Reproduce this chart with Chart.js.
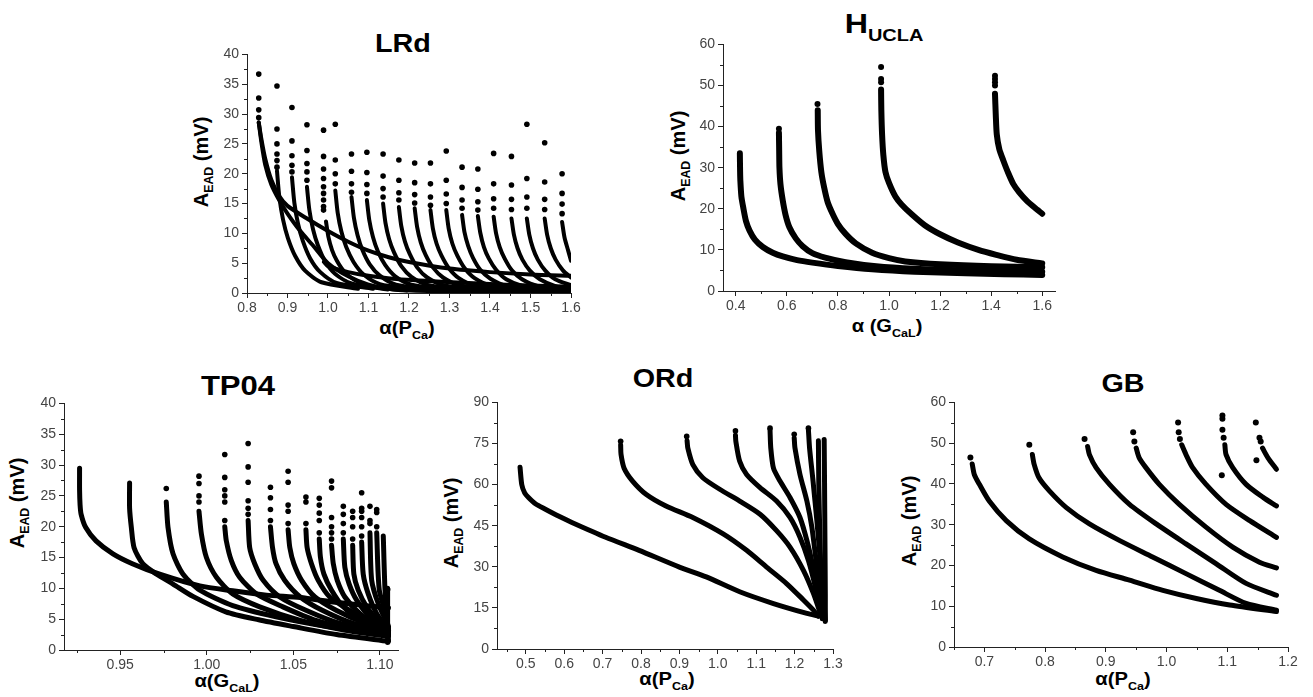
<!DOCTYPE html>
<html>
<head>
<meta charset="utf-8">
<script src="https://cdn.jsdelivr.net/npm/chart.js@4.4.1/dist/chart.umd.min.js"></script>
<style>
  body { margin: 0; background: #fff; width: 1313px; height: 697px; position: relative; overflow: hidden;
         font-family: "Liberation Sans", Arial, sans-serif; }
  canvas { position: absolute; }
  .t { position: absolute; font-weight: bold; color: #000; white-space: nowrap; line-height: 1;
       transform: translate(-50%, -50%) scaleX(1.15); }
  .yl { position: absolute; font-weight: bold; color: #000; white-space: nowrap; line-height: 1; font-size: 20px;
        transform: translate(-50%, -50%) rotate(-90deg); }
  .xl { position: absolute; font-weight: bold; color: #000; white-space: nowrap; line-height: 1; font-size: 18px;
        transform: translate(-50%, -50%) scaleX(1.12); }
  sub { font-size: 0.62em; vertical-align: -0.45em; }
</style>
</head>
<body>

<div class="t" style="left:403px;top:43px;font-size:25px">LRd</div>
<div class="t" style="left:884px;top:27px;font-size:28px">H<sub>UCLA</sub></div>
<div class="t" style="left:238px;top:386px;font-size:27px">TP04</div>
<div class="t" style="left:663px;top:378px;font-size:25px">ORd</div>
<div class="t" style="left:1123px;top:383px;font-size:25px">GB</div>

<div class="yl" style="left:203px;top:162px">A<sub>EAD</sub> (mV)</div>
<div class="yl" style="left:680px;top:156px">A<sub>EAD</sub> (mV)</div>
<div class="yl" style="left:19px;top:503px">A<sub>EAD</sub> (mV)</div>
<div class="yl" style="left:453px;top:523px">A<sub>EAD</sub> (mV)</div>
<div class="yl" style="left:911px;top:521px">A<sub>EAD</sub> (mV)</div>

<div class="xl" style="left:407px;top:330px">α(P<sub>Ca</sub>)</div>
<div class="xl" style="left:887px;top:328px">α (G<sub>CaL</sub>)</div>
<div class="xl" style="left:227px;top:683px">α(G<sub>CaL</sub>)</div>
<div class="xl" style="left:667px;top:681px">α(P<sub>Ca</sub>)</div>
<div class="xl" style="left:1123px;top:681px">α(P<sub>Ca</sub>)</div>

<script>
// ─── LRd ─────────────────────────────────────────────────────────────────────
const lrdXMajor = [0.8, 0.9, 1.0, 1.1, 1.2, 1.3, 1.4, 1.5, 1.6];
const lrdXMinor = [0.85, 0.95, 1.05, 1.15, 1.25, 1.35, 1.45, 1.55];
const lrdYMajor = [0, 5, 10, 15, 20, 25, 30, 35, 40];
const lrdYMinor = [2.5, 7.5, 12.5, 17.5, 22.5, 27.5, 32.5, 37.5];

const lrdBands = [
  [[0.829,28.6],[0.835,26],[0.845,22.5],[0.86,19],[0.88,16.2],[0.9,14.6],[0.95,12.4],[1.0,10.4],[1.05,8.6],[1.1,7.1],[1.15,6.0],[1.2,5.2],[1.3,4.1],[1.4,3.5],[1.5,3.1],[1.6,2.9]],
  [[0.829,28.6],[0.835,25.5],[0.845,21.5],[0.86,18.2],[0.88,15.5],[0.9,13.3],[0.93,10.5],[0.965,7.8],[1.0,5.0],[1.05,2.8],[1.1,1.4],[1.16,0.6],[1.25,0.35],[1.4,0.25],[1.6,0.2]],
  [[0.99,5.2],[1.0,4.5],[1.05,3.5],[1.1,2.9],[1.16,2.4],[1.28,1.9],[1.44,1.4],[1.6,1.05]],
  [[1.15,0.8],[1.3,0.7],[1.45,0.65],[1.6,0.6]],
];

const lrdBranches = [
  [[0.874,20.5],[0.880,16],[0.889,12.3],[0.901,9.2],[0.919,6.2],[0.944,3.7],[0.984,1.8],[1.074,0.7]],
  [[0.911,19.4],[0.917,15.1],[0.926,11.6],[0.938,8.7],[0.956,5.8],[0.981,3.5],[1.021,1.7],[1.111,0.7]],
  [[0.948,17.8],[0.954,13.9],[0.963,10.7],[0.975,8.0],[0.993,5.3],[1.018,3.2],[1.058,1.6],[1.148,0.6]],
  [[0.995,12],[1.001,9.4],[1.010,7.2],[1.022,5.4],[1.040,3.6],[1.065,2.2],[1.105,1.1],[1.195,0.4]],
  [[1.018,17.2],[1.024,13.4],[1.033,10.3],[1.045,7.7],[1.063,5.2],[1.088,3.1],[1.128,1.5],[1.218,0.6]],
  [[1.058,16.1],[1.064,12.6],[1.073,9.7],[1.085,7.2],[1.103,4.8],[1.128,2.9],[1.168,1.4],[1.258,0.56]],
  [[1.096,15.6],[1.102,12.2],[1.111,9.4],[1.123,7.0],[1.141,4.7],[1.166,2.8],[1.206,1.4],[1.296,0.55]],
  [[1.136,15],[1.142,11.7],[1.151,9.0],[1.163,6.8],[1.181,4.5],[1.206,2.7],[1.246,1.35],[1.336,0.5]],
  [[1.175,14.4],[1.181,11.2],[1.190,8.6],[1.202,6.5],[1.220,4.3],[1.245,2.6],[1.285,1.3],[1.375,0.5]],
  [[1.214,14.2],[1.220,11.1],[1.229,8.5],[1.241,6.4],[1.259,4.3],[1.284,2.6],[1.324,1.3],[1.414,0.5]],
  [[1.253,13.9],[1.259,10.8],[1.268,8.3],[1.280,6.3],[1.298,4.2],[1.323,2.5],[1.363,1.25],[1.453,0.5]],
  [[1.292,13.9],[1.298,10.8],[1.307,8.3],[1.319,6.3],[1.337,4.2],[1.362,2.5],[1.402,1.25],[1.492,0.5]],
  [[1.331,13.1],[1.337,10.2],[1.346,7.9],[1.358,5.9],[1.376,3.9],[1.401,2.4],[1.441,1.2],[1.531,0.46]],
  [[1.370,12.9],[1.376,10.1],[1.385,7.7],[1.397,5.8],[1.415,3.9],[1.440,2.3],[1.480,1.2],[1.570,0.45]],
  [[1.409,12.8],[1.415,10.0],[1.424,7.7],[1.436,5.8],[1.454,3.8],[1.479,2.3],[1.519,1.15],[1.6,0.5]],
  [[1.453,12.5],[1.459,9.8],[1.468,7.5],[1.480,5.6],[1.498,3.8],[1.523,2.3],[1.563,1.1],[1.6,0.7]],
  [[1.491,12.5],[1.497,9.8],[1.506,7.5],[1.518,5.6],[1.536,3.8],[1.561,2.3],[1.6,1.3]],
  [[1.535,12.5],[1.541,9.8],[1.550,7.5],[1.562,5.6],[1.580,3.8],[1.6,2.6]],
  [[1.578,11.9],[1.584,9.3],[1.593,7.1],[1.6,5.4]],
];

const lrdDots = [
  [0.829,36.7],[0.829,32.7],[0.829,30.7],[0.829,29.4],
  [0.874,34.7],[0.874,27.5],[0.874,25],[0.874,23.3],[0.874,22.2],[0.874,21.1],
  [0.911,31.1],[0.911,25.5],[0.911,23],[0.911,21.4],[0.911,20.3],
  [0.948,28.2],[0.948,23.9],[0.948,21.7],[0.948,20.3],[0.948,18.9],
  [0.989,27.3],[0.989,22.9],[0.989,20.8],[0.989,19.2],[0.989,17.8],[0.989,16.7],[0.989,15.6],[0.989,14.5],[0.989,13.9],
  [1.018,28.3],[1.018,22.3],[1.018,20],[1.018,18.3],
  [1.058,23.3],[1.058,20.4],[1.058,18.3],[1.058,16.9],
  [1.096,23.6],[1.096,20.2],[1.096,18.2],[1.096,16.7],
  [1.136,23.3],[1.136,19.6],[1.136,17.5],[1.136,16.1],
  [1.175,22.3],[1.175,18.9],[1.175,16.8],[1.175,15.6],
  [1.214,21.8],[1.214,18.5],[1.214,16.5],[1.214,15.1],
  [1.253,21.8],[1.253,18.3],[1.253,16.1],[1.253,14.7],
  [1.292,23.8],[1.292,18.9],[1.292,16.6],[1.292,15],
  [1.331,21.1],[1.331,17.7],[1.331,15.6],[1.331,14.2],
  [1.370,20.8],[1.370,17.4],[1.370,15.3],[1.370,13.9],
  [1.409,23.4],[1.409,18.3],[1.409,15.8],[1.409,14.2],
  [1.453,22.9],[1.453,18.1],[1.453,15.7],[1.453,14],
  [1.491,28.3],[1.491,19.2],[1.491,16.1],[1.491,14.2],
  [1.535,25.2],[1.535,18.6],[1.535,15.7],[1.535,14],
  [1.578,20],[1.578,16.7],[1.578,14.9],[1.578,13.3],
];

// ─── H UCLA ──────────────────────────────────────────────────────────────────
const hXMajor = [0.4, 0.6, 0.8, 1.0, 1.2, 1.4, 1.6];
const hXMinor = [0.5, 0.7, 0.9, 1.1, 1.3, 1.5];
const hYMajor = [0, 10, 20, 30, 40, 50, 60];
const hYMinor = [5, 15, 25, 35, 45, 55];

const hCurves = [
  [[0.416,33.5],[0.417,29],[0.418,26.8],[0.422,23],[0.429,20.4],[0.44,17],[0.454,14.7],[0.475,12.5],[0.506,10.7],[0.545,9.3],[0.584,8.4],[0.64,7.5],[0.7,6.9],[0.8,6.1],[0.934,5.3],[1.1,4.7],[1.3,4.3],[1.45,4.1],[1.6,3.9]],
  [[0.569,38.5],[0.570,34],[0.571,30],[0.575,26],[0.584,22],[0.595,18.5],[0.61,15.5],[0.635,12.8],[0.662,10.9],[0.7,9.2],[0.75,8.1],[0.83,7.0],[0.95,6.0],[1.1,5.4],[1.3,5.0],[1.6,4.7]],
  [[0.721,44],[0.722,39],[0.727,34],[0.735,29],[0.746,25.2],[0.76,21.6],[0.779,18.8],[0.80,16.3],[0.83,13.9],[0.87,11.6],[0.934,9.3],[1.0,8.0],[1.064,7.2],[1.2,6.5],[1.4,6.0],[1.6,5.8]],
  [[0.969,49],[0.97,44],[0.973,38],[0.978,33],[0.986,29],[1.0,26.3],[1.025,23],[1.05,21],[1.09,18.6],[1.14,16.0],[1.2,13.8],[1.27,11.8],[1.35,10.0],[1.42,8.8],[1.5,7.6],[1.6,6.7]],
  [[1.415,48],[1.418,43],[1.422,38.1],[1.432,34.5],[1.448,31.7],[1.465,29],[1.487,26],[1.51,24],[1.539,22],[1.57,20.3],[1.6,18.8]],
];

const hDots = [
  [0.569,39.5],[0.72,45.5],
  [0.969,54.5],[0.969,51.6],[0.969,50.8],
  [1.415,52.4],[1.415,51.6],[1.415,50.8],[1.415,50],
];

// ─── TP04 ────────────────────────────────────────────────────────────────────
const tpXMajor = [0.95, 1.00, 1.05, 1.10];
const tpXMinor = [0.925, 0.975, 1.025, 1.075];
const tpYMajor = [0, 5, 10, 15, 20, 25, 30, 35, 40];
const tpYMinor = [2.5, 7.5, 12.5, 17.5, 22.5, 27.5, 32.5, 37.5];

const tpCurves = [
  [[0.9265,29.5],[0.9265,26],[0.9268,23.5],[0.9274,22],[0.930,19.9],[0.936,17.7],[0.9458,15.6],[0.957,14],[0.9728,12.3],[0.996,10.4],[1.015,9.6],[1.0345,8.9],[1.054,8.5],[1.073,7.8],[1.092,7.2],[1.105,6.8]],
  [[0.9554,27.1],[0.9554,23],[0.9564,19.9],[0.958,16.6],[0.963,14],[0.971,12.3],[0.9805,10.7],[0.992,8.7],[1.011,6.2],[1.03,4.9],[1.05,3.8],[1.075,2.5],[1.105,1.4]],
  [[0.9766,24],[0.9776,19.9],[0.9805,15.6],[0.9863,12.3],[0.996,9.7],[1.015,7.2],[1.04,5.4],[1.07,3.8],[1.105,2.4]],
  [[0.9955,22.5],[0.9969,18.8],[0.9998,15],[1.0056,11.8],[1.015,9.1],[1.0306,7.0],[1.054,4.8],[1.08,3.2],[1.105,2.2]],
  [[1.0104,20],[1.0113,17.7],[1.0142,14.5],[1.019,11.8],[1.0287,9.1],[1.044,7.0],[1.063,4.8],[1.085,3.3],[1.105,2.5]],
  [[1.0239,21],[1.0248,16.6],[1.0277,14],[1.0326,11.3],[1.0422,8.6],[1.0576,6.4],[1.077,4.3],[1.105,2.8]],
  [[1.0368,20],[1.038,16.6],[1.040,14],[1.045,11.3],[1.054,8.6],[1.067,6.4],[1.0847,4.3],[1.105,3.0]],
  [[1.047,19.5],[1.048,16.6],[1.0503,14],[1.0548,11.3],[1.0625,8.6],[1.075,6.4],[1.092,4.3],[1.105,3.4]],
  [[1.0573,19.5],[1.058,16.6],[1.0605,14],[1.0644,11.3],[1.0711,8.6],[1.0827,6.4],[1.0962,4.3],[1.105,3.6]],
  [[1.065,18],[1.0657,15],[1.0677,12.3],[1.0721,9.7],[1.0789,7.0],[1.0904,4.5],[1.105,3.4]],
  [[1.0721,17],[1.0731,14],[1.0754,11.3],[1.0798,8.6],[1.0885,5.9],[1.1,3.8],[1.105,3.2]],
  [[1.0789,18],[1.0798,13.4],[1.0823,10.7],[1.0866,8.1],[1.0943,5.4],[1.105,3.2]],
  [[1.0843,17],[1.085,12.3],[1.0875,9.7],[1.0924,7.0],[1.1,4.3],[1.105,2.7]],
  [[1.0895,17.5],[1.0904,12.3],[1.0933,9.1],[1.0982,5.9],[1.105,3.2]],
  [[1.0943,19],[1.0953,11.3],[1.0991,7.5],[1.105,3.8]],
  [[1.0982,19],[1.0997,9.7],[1.104,5.4],[1.105,2.7]],
  [[1.102,18.5],[1.103,9.7],[1.105,1.6]],
  [[1.1045,10],[1.1045,1.2]],
];

const tpDots = [
  [0.9766,26.2],
  [0.9955,28.2],[0.9955,27],[0.9955,25],[0.9955,24],
  [1.0104,31.7],[1.0104,28],[1.0104,26],[1.0104,25],[1.0104,24],[1.0104,21],
  [1.0239,33.5],[1.0239,29.7],[1.0239,27.2],[1.0239,24.2],[1.0239,23],[1.0239,22],
  [1.0368,26.4],[1.0368,24.7],[1.0368,22.8],[1.0368,21],
  [1.047,29],[1.047,27.2],[1.047,23.5],[1.047,22.5],[1.047,20.5],
  [1.0573,24.8],[1.0573,24],[1.0573,20.5],
  [1.065,24.6],[1.065,23.5],[1.065,22.2],[1.065,21],[1.065,19],
  [1.0721,27.4],[1.0721,26.3],[1.0721,21.5],[1.0721,20],[1.0721,19],[1.0721,18],
  [1.0789,23.3],[1.0789,22],[1.0789,20.5],[1.0789,19],
  [1.0843,22.5],[1.0843,21.5],[1.0843,20],[1.0843,18],
  [1.0895,25.5],[1.0895,23],[1.0895,22.5],[1.0895,21.5],[1.0895,20],[1.0895,18.5],
  [1.0943,23.3],[1.0943,21],[1.0943,20.5],
  [1.0982,22.8],[1.0982,22.3],[1.0982,20],
  [1.1045,9.8],
];

// ─── ORd ─────────────────────────────────────────────────────────────────────
const ordXMajor = [0.5, 0.6, 0.7, 0.8, 0.9, 1.0, 1.1, 1.2, 1.3];
const ordXMinor = [0.45, 0.55, 0.65, 0.75, 0.85, 0.95, 1.05, 1.15, 1.25];
const ordYMajor = [0, 15, 30, 45, 60, 75, 90];
const ordYMinor = [7.5, 22.5, 37.5, 52.5, 67.5, 82.5];

const ordCurves = [
  [[0.485,66.3],[0.4895,60],[0.497,57],[0.507,55.3],[0.525,53],[0.551,51],[0.585,48.5],[0.62,46.2],[0.708,40.8],[0.795,36],[0.9,29.9],[0.97,26.3],[1.057,20.9],[1.145,16.6],[1.232,13],[1.262,12]],
  [[0.747,74.5],[0.748,71],[0.756,66],[0.778,61.3],[0.813,56.5],[0.865,52.2],[0.935,48],[1.014,42],[1.075,36],[1.127,29.9],[1.179,23.9],[1.223,17.9],[1.249,14.2],[1.262,12]],
  [[0.920,76],[0.922,73.3],[0.935,67.3],[0.961,62.5],[1.005,58.3],[1.057,54],[1.11,49.2],[1.153,43.2],[1.188,37.2],[1.223,28.7],[1.249,20.3],[1.267,13]],
  [[1.046,78],[1.047,75.8],[1.057,68.5],[1.075,63.7],[1.11,58.9],[1.153,54],[1.188,48],[1.214,40.8],[1.236,32.3],[1.254,22.7],[1.267,14]],
  [[1.136,80],[1.138,73.3],[1.145,66],[1.162,61.3],[1.188,55.3],[1.214,48],[1.232,39.6],[1.248,29.9],[1.261,20.3],[1.271,12]],
  [[1.199,77],[1.201,73.3],[1.214,63.7],[1.232,54],[1.245,44.4],[1.256,32.3],[1.267,20.3],[1.274,12]],
  [[1.236,80],[1.239,73.3],[1.248,61.3],[1.258,46.8],[1.267,32.3],[1.276,17.9],[1.28,10.6]],
  [[1.262,76],[1.263,60],[1.266,40],[1.27,20],[1.272,11]],
  [[1.277,76.5],[1.278,60],[1.279,40],[1.28,20],[1.28,10]],
];

const ordDots = [
  [0.747,75.8],[0.919,77.6],[1.046,79.6],[1.136,80.6],[1.199,78.4],[1.236,80.6],
];

// ─── GB ──────────────────────────────────────────────────────────────────────
const gbXMajor = [0.7, 0.8, 0.9, 1.0, 1.1, 1.2];
const gbXMinor = [0.65, 0.75, 0.85, 0.95, 1.05, 1.15];
const gbYMajor = [0, 10, 20, 30, 40, 50, 60];
const gbYMinor = [5, 15, 25, 35, 45, 55];

const gbCurves = [
  [[0.68,44.9],[0.6835,42.3],[0.6918,39.9],[0.708,35.8],[0.736,31],[0.774,26.5],[0.829,22.1],[0.884,18.8],[0.939,16.4],[0.994,13.9],[1.049,11.9],[1.104,10.3],[1.181,8.7]],
  [[0.779,47.2],[0.782,44.8],[0.79,41.5],[0.807,38.3],[0.835,34.2],[0.873,30.2],[0.923,26.1],[0.977,22.1],[1.032,18],[1.087,13.9],[1.131,10.7],[1.181,9.0]],
  [[0.87,49.2],[0.873,47.2],[0.884,44],[0.906,39.9],[0.939,35],[0.983,30.2],[1.032,25.3],[1.082,20.4],[1.131,15.6],[1.181,12.7]],
  [[0.95,48.8],[0.955,46.4],[0.966,44],[0.988,39.9],[1.021,35],[1.065,29.4],[1.109,24.5],[1.153,20.8],[1.181,19.4]],
  [[1.025,49.6],[1.032,47.2],[1.043,44],[1.065,39.9],[1.098,35],[1.137,31],[1.181,26.9]],
  [[1.096,49.6],[1.098,47.2],[1.109,44],[1.131,39.9],[1.159,36.7],[1.181,34.6]],
  [[1.158,48.8],[1.167,46.4],[1.181,43.6]],
];

const gbDots = [
  [0.677,46.5],[0.774,49.6],[0.865,51],
  [0.945,52.7],[0.947,50.4],
  [1.019,55.1],[1.02,52.7],[1.022,51],
  [1.092,56.8],[1.092,56],[1.092,53.3],[1.094,51.3],[1.091,42.1],
  [1.147,55.1],[1.148,45.8],[1.153,51.3],[1.155,50.4],
];

// ─── Budowa wykresów ─────────────────────────────────────────────────────────

const Y_AXIS_W = 44;
const X_AXIS_H = 28;
const PAD_TOP = 10;
const PAD_RIGHT = 16;

function toXY(pts) {
  return pts.map(p => ({ x: p[0], y: p[1] }));
}

// krótkie podziałki pośrednie (Chart.js nie ma minor ticks)
const minorTicks = {
  id: 'minorTicks',
  afterDraw(chart, args, opts) {
    const { ctx } = chart;
    const xs = chart.scales.x, ys = chart.scales.y;
    ctx.save();
    ctx.strokeStyle = '#222';
    ctx.lineWidth = 1;
    ctx.beginPath();
    opts.x.forEach(v => {
      const px = Math.round(xs.getPixelForValue(v)) + 0.5;
      ctx.moveTo(px, xs.top);
      ctx.lineTo(px, xs.top + 3);
    });
    opts.y.forEach(v => {
      const py = Math.round(ys.getPixelForValue(v)) + 0.5;
      ctx.moveTo(ys.right, py);
      ctx.lineTo(ys.right - 3, py);
    });
    ctx.stroke();
    ctx.restore();
  },
};

function makePanel(cfg) {
  const { area, xRange, yRange, xMajor, xMinor, xDec, yMajor, yMinor, lines, dots, lineW, dotR } = cfg;
  const canvas = document.createElement('canvas');
  const w = Math.round(area.right - area.left) + Y_AXIS_W + PAD_RIGHT;
  const h = Math.round(area.bottom - area.top) + PAD_TOP + X_AXIS_H;
  canvas.width = w;
  canvas.height = h;
  canvas.style.left = Math.round(area.left - Y_AXIS_W) + 'px';
  canvas.style.top = Math.round(area.top - PAD_TOP) + 'px';
  document.body.appendChild(canvas);

  const datasets = lines.map(pts => ({
    data: toXY(pts),
    showLine: true,
    borderColor: '#000',
    borderWidth: lineW,
    borderCapStyle: 'round',
    borderJoinStyle: 'round',
    pointRadius: 0,
    tension: 0.25,
  }));
  datasets.push({
    data: toXY(dots),
    showLine: false,
    pointRadius: dotR,
    pointBackgroundColor: '#000',
    pointBorderWidth: 0,
  });

  const tickFont = { family: '"Liberation Sans", Arial, sans-serif', size: 14 };

  new Chart(canvas, {
    type: 'scatter',
    data: { datasets },
    plugins: [minorTicks],
    options: {
      responsive: false,
      animation: false,
      devicePixelRatio: 1,
      layout: { padding: { top: PAD_TOP, right: PAD_RIGHT, left: 0, bottom: 0 } },
      plugins: {
        legend: { display: false },
        tooltip: { enabled: false },
        minorTicks: { x: xMinor, y: yMinor },
      },
      scales: {
        x: {
          type: 'linear',
          min: xRange[0],
          max: xRange[1],
          afterBuildTicks: s => { s.ticks = xMajor.map(v => ({ value: v })); },
          afterFit: s => { s.height = X_AXIS_H; },
          ticks: {
            autoSkip: false, maxRotation: 0, minRotation: 0, padding: 2,
            color: '#444', font: tickFont,
            callback: v => v.toFixed(xDec),
          },
          grid: { drawOnChartArea: false, drawTicks: true, tickLength: 5, tickColor: '#222' },
          border: { display: true, color: '#222', width: 1 },
        },
        y: {
          type: 'linear',
          min: yRange[0],
          max: yRange[1],
          afterBuildTicks: s => { s.ticks = yMajor.map(v => ({ value: v })); },
          afterFit: s => { s.width = Y_AXIS_W; },
          ticks: {
            autoSkip: false, padding: 3,
            color: '#444', font: tickFont,
            callback: v => String(v),
          },
          grid: { drawOnChartArea: false, drawTicks: true, tickLength: 5, tickColor: '#222' },
          border: { display: true, color: '#222', width: 1 },
        },
      },
    },
  });
}

makePanel({
  area: { left: 247, top: 53, right: 571, bottom: 293 },
  xRange: [0.8, 1.6], yRange: [0, 40],
  xMajor: lrdXMajor, xMinor: lrdXMinor, xDec: 1, yMajor: lrdYMajor, yMinor: lrdYMinor,
  lines: lrdBands.concat(lrdBranches), dots: lrdDots, lineW: 4, dotR: 2.8,
});

makePanel({
  area: { left: 723, top: 43, right: 1055, bottom: 291 },
  xRange: [0.35, 1.65], yRange: [0, 60],
  xMajor: hXMajor, xMinor: hXMinor, xDec: 1, yMajor: hYMajor, yMinor: hYMinor,
  lines: hCurves, dots: hDots, lineW: 6, dotR: 3,
});

makePanel({
  area: { left: 64, top: 402, right: 398, bottom: 650 },
  xRange: [0.9175, 1.1105], yRange: [0, 40],
  xMajor: tpXMajor, xMinor: tpXMinor, xDec: 2, yMajor: tpYMajor, yMinor: tpYMinor,
  lines: tpCurves, dots: tpDots, lineW: 5, dotR: 2.8,
});

makePanel({
  area: { left: 497, top: 401, right: 833, bottom: 649 },
  xRange: [0.425, 1.3], yRange: [0, 90],
  xMajor: ordXMajor, xMinor: ordXMinor, xDec: 1, yMajor: ordYMajor, yMinor: ordYMinor,
  lines: ordCurves, dots: ordDots, lineW: 5, dotR: 2.8,
});

makePanel({
  area: { left: 954, top: 401, right: 1288, bottom: 647 },
  xRange: [0.65, 1.2], yRange: [0, 60],
  xMajor: gbXMajor, xMinor: gbXMinor, xDec: 1, yMajor: gbYMajor, yMinor: gbYMinor,
  lines: gbCurves, dots: gbDots, lineW: 5, dotR: 3,
});
</script>
</body>
</html>
